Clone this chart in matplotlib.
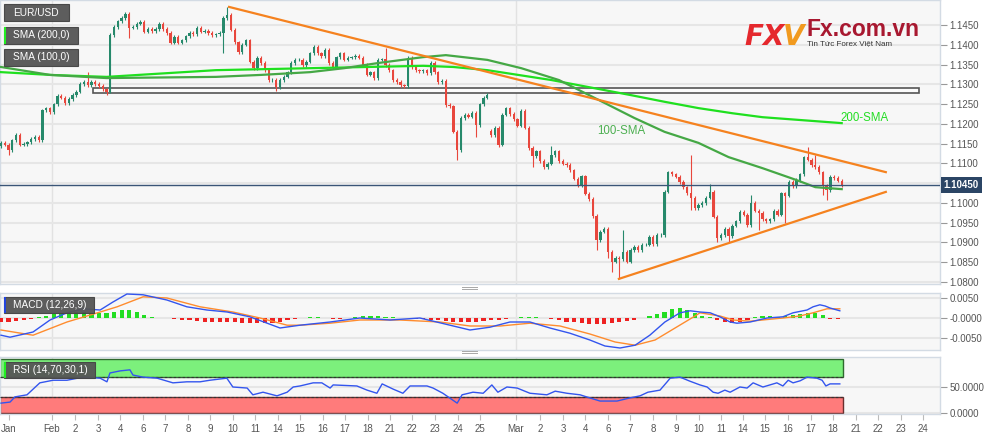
import numpy as np
import matplotlib.pyplot as plt
from matplotlib.patches import Rectangle

plt.rcParams['font.family'] = ['Liberation Sans', 'DejaVu Sans']

# ---- data (EUR/USD, 4h candles) ----
closes = [
    1.1152, 1.1147, 1.1134, 1.1159, 1.1172, 1.1147, 1.1149, 1.1154, 1.1162, 1.1167,
    1.1159, 1.1235, 1.1240, 1.1230, 1.1250, 1.1271, 1.1266, 1.1253, 1.1263, 1.1273,
    1.1281, 1.1301, 1.1306, 1.1298, 1.1306, 1.1301, 1.1296, 1.1288, 1.1281, 1.1425,
    1.1445, 1.1460, 1.1468, 1.1478, 1.1443, 1.1445, 1.1453, 1.1458, 1.1433, 1.1440,
    1.1435, 1.1440, 1.1453, 1.1440, 1.1430, 1.1405, 1.1420, 1.1405, 1.1412, 1.1422,
    1.1430, 1.1427, 1.1443, 1.1433, 1.1435, 1.1430, 1.1425, 1.1427, 1.1430, 1.1468,
    1.1476, 1.1438, 1.1407, 1.1382, 1.1400, 1.1412, 1.1357, 1.1341, 1.1367, 1.1354,
    1.1336, 1.1311, 1.1311, 1.1293, 1.1311, 1.1319, 1.1331, 1.1354, 1.1362, 1.1362,
    1.1349, 1.1357, 1.1379, 1.1395, 1.1379, 1.1372, 1.1387, 1.1354, 1.1344, 1.1369,
    1.1379, 1.1362, 1.1367, 1.1369, 1.1372, 1.1367, 1.1349, 1.1324, 1.1331, 1.1316,
    1.1362, 1.1364, 1.1349, 1.1336, 1.1311, 1.1306, 1.1298, 1.1296, 1.1367, 1.1344,
    1.1336, 1.1334, 1.1336, 1.1329, 1.1354, 1.1331, 1.1306, 1.1309, 1.1248, 1.1245,
    1.1180, 1.1134, 1.1215, 1.1223, 1.1218, 1.1228, 1.1197, 1.1250, 1.1266, 1.1273,
    1.1172, 1.1190, 1.1147, 1.1223, 1.1240, 1.1225, 1.1212, 1.1195, 1.1233, 1.1190,
    1.1139, 1.1119, 1.1131, 1.1106, 1.1091, 1.1099, 1.1121, 1.1131, 1.1106, 1.1099,
    1.1096, 1.1083, 1.1061, 1.1045, 1.1068, 1.1023, 1.1010, 1.0967, 1.0906, 1.0927,
    1.0934, 1.0876, 1.0851, 1.0861, 1.0858, 1.0876, 1.0851, 1.0881, 1.0889, 1.0881,
    1.0894, 1.0894, 1.0914, 1.0896, 1.0919, 1.0919, 1.1028, 1.1078, 1.1073, 1.1066,
    1.1053, 1.1040, 1.1025, 1.1013, 1.0987, 1.0995, 1.1000, 1.1013, 1.1028, 1.0965,
    1.0911, 1.0919, 1.0934, 1.0916, 1.0942, 1.0954, 1.0977, 1.0970, 1.0944, 1.1000,
    1.0980, 1.0975, 1.0959, 1.0954, 1.0959, 1.0980, 1.0970, 1.1025, 1.1018, 1.1053,
    1.1043, 1.1058, 1.1073, 1.1116, 1.1109, 1.1096, 1.1091, 1.1078, 1.1045, 1.1033,
    1.1066, 1.1063, 1.1056, 1.1045,
]
first_open = 1.1144
gap_opens = {130: 1.1183}
highs = {23: 1.1331, 60: 1.1496, 102: 1.1392, 129: 1.1278, 146: 1.1144, 165: 1.0931,
         183: 1.1121, 188: 1.1047, 199: 1.1020, 214: 1.1141, 216: 1.1121}
lows = {2: 1.1121, 28: 1.1273, 34: 1.1417, 59: 1.1379, 73: 1.1283, 121: 1.1109,
        126: 1.1167, 132: 1.1142, 141: 1.1091, 158: 1.0881, 161: 1.0861, 162: 1.0825,
        164: 1.0808, 183: 1.0982, 190: 1.0901, 193: 1.0901, 201: 1.0932, 208: 1.0949,
        218: 1.1020, 219: 1.1008}
last_price = 1.10450

sma100_t = [0, 13, 28, 57, 69, 82, 91, 100, 112, 118, 129, 138, 148, 157, 168, 176, 185, 193, 202, 211, 216, 223]
sma100 = [1.1344, 1.1324, 1.1316, 1.1319, 1.1324, 1.1331, 1.1341, 1.1354, 1.1369, 1.1374, 1.1362,
          1.1341, 1.1311, 1.1268, 1.1215, 1.1180, 1.1152, 1.1116, 1.1088, 1.1058, 1.1040, 1.1035]
sma200_t = [0, 13, 28, 57, 82, 112, 120, 129, 146, 167, 176, 185, 194, 202, 223]
sma200 = [1.1331, 1.1324, 1.1319, 1.1336, 1.1341, 1.1347, 1.1344, 1.1336, 1.1311, 1.1273,
          1.1256, 1.1240, 1.1227, 1.1217, 1.1202]

resist_t = [60.5, 234.7]
resist = [1.1496, 1.1078]
support_t = [163.9, 234.7]
support = [1.0808, 1.1028]
zone_t = [24.4, 243.5]
zone = [1.1277, 1.1290]

macd_t = [0, 2.4, 8.5, 13, 17.5, 21.8, 26.3, 29.7, 33.4, 37.7, 44, 49.3, 54.6, 60, 66, 70.6, 74,
          79.3, 87.3, 95.2, 103.2, 111.1, 119.1, 124.4, 129.7, 135, 140.3, 145.6, 150.9, 156.2,
          160.2, 164.2, 168.2, 172.1, 176.1, 180.1, 182.8, 185.4, 188.1, 190.7, 193.4, 195.2,
          198.7, 203.2, 207.4, 210.1, 213.8, 215.4, 217.2, 218.6, 219.9, 222.5]
macd = [-0.0043, -0.0048, -0.0035, -0.0005, 0.0013, 0.0023, 0.0020, 0.0040, 0.0060, 0.0058,
        0.0045, 0.0028, 0.0020, 0.0015, 0.0003, -0.0013, -0.0025, -0.0018, -0.0010, 0.0000,
        -0.0005, 0.0000, -0.0018, -0.0030, -0.0023, -0.0010, -0.0010, -0.0025, -0.0038, -0.0055,
        -0.0070, -0.0075, -0.0068, -0.0043, -0.0010, 0.0013, 0.0018, 0.0015, 0.0013, 0.0003,
        -0.0010, -0.0013, -0.0010, 0.0000, 0.0003, 0.0013, 0.0020, 0.0028, 0.0033, 0.0030,
        0.0025, 0.0018]
signal_t = [0, 8.5, 17.5, 26.3, 30.8, 37.7, 44, 52.8, 61.5, 68.7, 75.9, 79.3, 87.3, 95.2, 105.8,
            116.4, 124.4, 132.4, 140.3, 148.3, 156.2, 162.9, 168.2, 173.5, 178.8, 184.1, 185.4,
            190.7, 194.2, 198.7, 207.4, 211.9, 215.4, 219.1, 222.5]
signal = [-0.0030, -0.0043, -0.0010, 0.0015, 0.0028, 0.0053, 0.0050, 0.0028, 0.0015, 0.0000,
          -0.0018, -0.0018, -0.0013, -0.0005, -0.0005, -0.0010, -0.0020, -0.0020, -0.0013, -0.0020,
          -0.0040, -0.0060, -0.0068, -0.0055, -0.0025, 0.0005, 0.0013, 0.0005, -0.0005, -0.0008,
          0.0000, 0.0005, 0.0013, 0.0023, 0.0023]
# histogram, one bar per two candles, in 1e-4
hist = [-10, -10, -8, -5, -2, 2, 5, 10, 13, 15, 15, 14, 13, 12, 12, 16, 19, 19, 16, 8,
        3, 1, -1, -2, -4, -6, -8, -9, -10, -10, -10, -11, -12, -13, -13, -12, -12, -10, -6, -2,
        1, 3, 3, 1, -2, -2, 1, 3, 4, 4, 4, 3, 2, 1, -1, -2, -3, -4, -6, -8,
        -10, -11, -11, -10, -8, -6, -4, -2, 1, 3, 3, 2, -1, -3, -6, -9, -11, -13, -14, -15,
        -15, -13, -11, -8, -5, -1, 4, 10, 16, 22, 24, 20, 13, 6, 2, -6, -10, -12, -9, -5,
        2, 4, 4, 3, 6, 8, 10, 13, 12, 8, -2, -3]

rsi_t = [0, 2.4, 3.7, 6.9, 10.3, 13.8, 17.5, 21.8, 26.3, 28.1, 28.9, 31.6, 34.2, 35, 37.7, 41.4,
         45.6, 49.3, 52.8, 55.4, 59.9, 61.5, 65.3, 66.8, 69.5, 73.2, 75.9, 77.5, 79.3, 82.8, 85.1,
         87.3, 88.1, 94.4, 97.1, 99.7, 101.1, 104, 106.6, 108.5, 113, 114.6, 117.2, 118.6, 121,
         122.3, 125.2, 127.9, 130.2, 131.8, 134.2, 136.9, 140.3, 144.8, 147, 150.1, 153.6, 156.2,
         158.9, 163.4, 166.8, 169.5, 171.6, 174.8, 176.7, 177.5, 180.1, 182.8, 185.4, 187.3,
         188.9, 190.2, 192, 193.4, 196, 197.9, 199.5, 202.1, 205.8, 207.4, 208.8, 210.1, 212,
         213.8, 216.4, 217.8, 218.8, 219.9, 222.5]
rsi = [19, 21, 31, 35, 58, 63, 63, 69, 67, 60, 77, 81, 83, 73, 69, 67, 58, 60, 60, 63,
       67, 50, 48, 35, 40, 33, 40, 50, 52, 58, 58, 48, 54, 52, 44, 38, 56, 46, 38, 52,
       52, 48, 38, 31, 19, 35, 40, 38, 54, 40, 50, 48, 38, 35, 42, 38, 35, 29, 23, 23,
       29, 33, 40, 44, 60, 67, 69, 61, 54, 50, 40, 38, 44, 40, 50, 48, 58, 50, 58, 52,
       63, 58, 62, 69, 67, 63, 52, 56, 56]

date_labels = ['Jan', 'Feb', '2', '3', '4', '6', '7', '8', '9', '10', '11', '14', '15', '16', '17',
               '18', '21', '22', '23', '24', '25', 'Mar', '2', '3', '4', '6', '7', '8', '9', '10',
               '11', '14', '15', '16', '17', '18', '21', '22', '23', '24']
# label positions in pixels of the original, converted to candle units below
date_px = [9, 52, 75, 98, 120, 143, 165, 188, 210, 233, 255, 278, 300, 323, 345, 368, 390, 412,
           435, 458, 480, 516, 540, 563, 585, 608, 630, 653, 676, 699, 721, 743, 765, 788, 811,
           833, 856, 878, 901, 923]

# ---- layout ----
W, H = 1000, 436
STEP = 3.77
GREEN, RED = '#26896b', '#e8473d'
BG = '#f7f7f7'
SPINE = '#d3dbe4'


def fy(y):
    return 1 - y / H


def px2t(p):
    return (p - 1) / STEP


fig = plt.figure(figsize=(10, 4.36), dpi=100)
ax = fig.add_axes([0, fy(284), 0.94, 284 / H])
ax_m = fig.add_axes([0, fy(350), 0.94, 57 / H])
ax_r = fig.add_axes([0, fy(414), 0.94, 57 / H])

xlim = (px2t(0), px2t(940))
for a in (ax, ax_m, ax_r):
    a.set_facecolor(BG)
    a.set_xlim(*xlim)
    for s in a.spines.values():
        s.set_color(SPINE)
        s.set_linewidth(1)
    a.yaxis.tick_right()
    a.tick_params(axis='y', direction='out', length=5, width=0.8, color='#999',
                  labelcolor='#555', labelsize=7, pad=2)
    for lbl in ('Feb', 'Mar'):
        a.axvline(px2t(date_px[date_labels.index(lbl)]), color='#e2e2e2', lw=1, zorder=0)

# main price panel
ax.set_ylim(1.0795, 1.15135)
yt = np.arange(1.08, 1.1451, 0.005)
ax.set_yticks(yt)
# the last-price box covers the 1.1050 label, as in the original
ax.set_yticklabels(['' if abs(v - 1.105) < 1e-6 else f'{v:.4f}' for v in yt])
ax.grid(axis='y', color='#e6e6e6', lw=1.5, zorder=0)
ax.set_xticks([])

c = np.array(closes)
n = len(c)
x = np.arange(n)
o = np.r_[first_open, c[:-1]]
for k, v in gap_opens.items():
    o[k] = v
hi = np.maximum(o, c) + 0.0004
lo = np.minimum(o, c) - 0.0004
for k, v in highs.items():
    hi[k] = v
for k, v in lows.items():
    lo[k] = v
cols = np.where(c >= o, GREEN, RED)
ax.vlines(x, lo, hi, colors=cols, lw=0.8, zorder=3)
ax.bar(x, np.maximum(np.abs(c - o), 0.00008), bottom=np.minimum(o, c), width=0.62,
       color=cols, lw=0, zorder=4)

ax.add_patch(Rectangle((zone_t[0], zone[0]), zone_t[1] - zone_t[0], zone[1] - zone[0],
                       fc='#fbfbfb', ec='#555', lw=1.2, zorder=2))
ax.plot(sma200_t, sma200, color='#1fe01f', lw=1.6, zorder=5)
ax.plot(sma100_t, sma100, color='#45a845', lw=1.6, zorder=5)
ax.plot(resist_t, resist, color='#f5821f', lw=1.6, zorder=6)
ax.plot(support_t, support, color='#f5821f', lw=1.6, zorder=6)
ax.axhline(last_price, color='#3a5577', lw=1, zorder=5)
ax.text(px2t(621), 1.1182, '100-SMA', color='#4caf50', fontsize=8.3, ha='center', va='center')
ax.text(px2t(840), 1.1215, '200-SMA', color='#22dd22', fontsize=8.3, ha='left', va='center')
ax.text(1.004, last_price, f'{last_price:.5f}', transform=ax.get_yaxis_transform(),
        color='white', fontsize=7, fontweight='bold', va='center', ha='left', clip_on=False,
        bbox=dict(boxstyle='square,pad=0.3', fc='#2b4565', ec='none'))

# MACD panel
ax_m.set_ylim(-0.008, 0.00625)
ax_m.set_yticks([0.005, 0, -0.005])
ax_m.set_yticklabels(['0.0050', '-0.0000', '-0.0050'])
ax_m.grid(axis='y', color='#e6e6e6', lw=1.5, zorder=0)
ax_m.set_xticks([])
h = np.array(hist) * 1e-4
hx = np.arange(len(h)) * 2
ax_m.bar(hx, h, width=1.1, color=np.where(h >= 0, '#22dd22', '#ee2222'), lw=0, zorder=3)
ax_m.plot(signal_t, signal, color='#ff8c2e', lw=1, zorder=4)
ax_m.plot(macd_t, macd, color='#3355ee', lw=1, zorder=5)

# RSI panel
ax_r.set_ylim(-1.9, 107.7)
ax_r.set_yticks([50, 0])
ax_r.set_yticklabels(['50.0000', '0.0000'])
ax_r.grid(axis='y', color='#e6e6e6', lw=1.5, zorder=0)
band_end = px2t(843)
ax_r.add_patch(Rectangle((xlim[0], 70), band_end - xlim[0], 34, fc='#7cf07c', ec='#2f6a2f',
                         lw=1, zorder=2))
ax_r.add_patch(Rectangle((xlim[0], 0), band_end - xlim[0], 30, fc='#ff7b7b', ec='#6a2f2f',
                         lw=1, zorder=2))
ax_r.hlines([70, 30], xlim[0], band_end, colors='#333', lw=0.8, linestyles=(0, (2, 2)), zorder=3)
ax_r.plot(rsi_t, rsi, color='#3355ee', lw=1, zorder=5)
ax_r.set_xticks([px2t(p) for p in date_px])
ax_r.set_xticklabels(date_labels)
ax_r.tick_params(axis='x', length=4, width=0.8, color='#bbb', labelcolor='#555', labelsize=7, pad=3)


# overlay boxes and watermark (figure pixel coords)
def fig_box(x0, y0, w, h, fc, ec='none', lw=0, alpha=1.0):
    fig.add_artist(Rectangle((x0 / W, fy(y0 + h)), w / W, h / H, transform=fig.transFigure,
                             fc=fc, ec=ec, lw=lw, alpha=alpha, zorder=20))


def fig_label(x0, y0, w, h, text, bar=None):
    fig_box(x0, y0, w, h, '#555555', ec='#444', lw=0.8, alpha=0.95)
    if bar:
        fig_box(x0, y0, 2, h, bar)
    fig.text((x0 + 9) / W, fy(y0 + h / 2), text, color='white', fontsize=7.3,
             va='center', ha='left', zorder=21)


fig_label(4, 4, 65, 17, 'EUR/USD')
fig_label(4, 27, 74, 17, 'SMA (200,0)', bar='#22ee22')
fig_label(4, 49, 74, 17, 'SMA (100,0)')
fig_label(4, 297, 90, 16, 'MACD (12,26,9)', bar='#2244dd')
fig_label(4, 362, 91, 16, 'RSI (14,70,30,1)', bar='#22ee22')

fig.text(744 / W, fy(45), 'FX', color='#e5282d', fontsize=20, fontweight='bold',
         style='italic', family='DejaVu Sans', va='baseline', zorder=21)
fig.text(783 / W, fy(45), 'V', color='#f19a1f', fontsize=20, fontweight='bold',
         style='italic', family='DejaVu Sans', va='baseline', zorder=21)
fig.text(806 / W, fy(36), 'Fx.com.vn', color='#a81830', fontsize=16.5, fontweight='bold',
         va='baseline', zorder=21)
fig.text(807 / W, fy(45), 'Tin Tức Forex Việt Nam', color='#333', fontsize=5.8,
         va='baseline', zorder=21)

# panel resize handles
for yy in (287, 351):
    fig_box(462, yy, 16, 1, '#aaaaaa')
    fig_box(462, yy + 2, 16, 1, '#aaaaaa')

fig.savefig('out.png', dpi=100, facecolor='white')
